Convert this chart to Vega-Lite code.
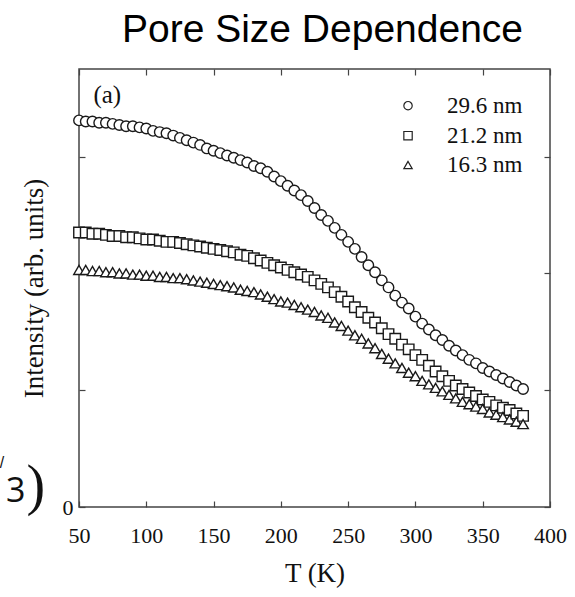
{
  "$schema": "https://vega.github.io/schema/vega-lite/v6.json",
  "autosize": {"type": "none"},
  "width": 471,
  "height": 438,
  "padding": {"left": 79, "top": 69, "right": 25, "bottom": 90},
  "background": "white",
  "title": {"text": "Pore Size Dependence", "font": "Liberation Sans", "fontSize": 39, "fontWeight": "normal", "color": "#000", "offset": 18, "dx": 8},
  "config": {
    "view": {"stroke": "#444", "strokeWidth": 1.5},
    "axis": {"labelFont": "Liberation Serif", "titleFont": "Liberation Serif", "labelColor": "#111", "titleColor": "#111", "labelFontSize": 22, "titleFontSize": 27, "titleFontWeight": "normal", "grid": false, "domain": false, "tickColor": "#444", "tickWidth": 1.2, "tickSize": -6, "labelFlush": false}
  },
  "datasets": {
    "curves": [
      {"T":50,"s296":3.31,"s212":2.35,"s163":2.03},
      {"T":55,"s296":3.30,"s212":2.35,"s163":2.03},
      {"T":60,"s296":3.30,"s212":2.34,"s163":2.02},
      {"T":65,"s296":3.29,"s212":2.34,"s163":2.02},
      {"T":70,"s296":3.29,"s212":2.33,"s163":2.01},
      {"T":75,"s296":3.28,"s212":2.32,"s163":2.01},
      {"T":80,"s296":3.27,"s212":2.32,"s163":2.00},
      {"T":85,"s296":3.26,"s212":2.31,"s163":2.00},
      {"T":90,"s296":3.26,"s212":2.31,"s163":1.99},
      {"T":95,"s296":3.25,"s212":2.30,"s163":1.99},
      {"T":100,"s296":3.24,"s212":2.29,"s163":1.98},
      {"T":105,"s296":3.22,"s212":2.29,"s163":1.98},
      {"T":110,"s296":3.21,"s212":2.28,"s163":1.97},
      {"T":115,"s296":3.20,"s212":2.27,"s163":1.97},
      {"T":120,"s296":3.18,"s212":2.27,"s163":1.96},
      {"T":125,"s296":3.16,"s212":2.26,"s163":1.96},
      {"T":130,"s296":3.14,"s212":2.25,"s163":1.95},
      {"T":135,"s296":3.12,"s212":2.24,"s163":1.94},
      {"T":140,"s296":3.10,"s212":2.23,"s163":1.93},
      {"T":145,"s296":3.07,"s212":2.22,"s163":1.92},
      {"T":150,"s296":3.05,"s212":2.21,"s163":1.91},
      {"T":155,"s296":3.03,"s212":2.20,"s163":1.90},
      {"T":160,"s296":3.01,"s212":2.19,"s163":1.89},
      {"T":165,"s296":2.99,"s212":2.18,"s163":1.88},
      {"T":170,"s296":2.97,"s212":2.16,"s163":1.86},
      {"T":175,"s296":2.95,"s212":2.15,"s163":1.85},
      {"T":180,"s296":2.92,"s212":2.13,"s163":1.84},
      {"T":185,"s296":2.90,"s212":2.11,"s163":1.82},
      {"T":190,"s296":2.87,"s212":2.09,"s163":1.80},
      {"T":195,"s296":2.83,"s212":2.07,"s163":1.78},
      {"T":200,"s296":2.79,"s212":2.05,"s163":1.76},
      {"T":205,"s296":2.75,"s212":2.03,"s163":1.75},
      {"T":210,"s296":2.71,"s212":2.01,"s163":1.73},
      {"T":215,"s296":2.67,"s212":1.99,"s163":1.71},
      {"T":220,"s296":2.62,"s212":1.97,"s163":1.69},
      {"T":225,"s296":2.56,"s212":1.94,"s163":1.67},
      {"T":230,"s296":2.50,"s212":1.91,"s163":1.64},
      {"T":235,"s296":2.45,"s212":1.88,"s163":1.62},
      {"T":240,"s296":2.39,"s212":1.84,"s163":1.58},
      {"T":245,"s296":2.33,"s212":1.80,"s163":1.55},
      {"T":250,"s296":2.27,"s212":1.76,"s163":1.51},
      {"T":255,"s296":2.21,"s212":1.71,"s163":1.47},
      {"T":260,"s296":2.14,"s212":1.67,"s163":1.44},
      {"T":265,"s296":2.07,"s212":1.62,"s163":1.40},
      {"T":270,"s296":2.01,"s212":1.58,"s163":1.36},
      {"T":275,"s296":1.94,"s212":1.53,"s163":1.31},
      {"T":280,"s296":1.88,"s212":1.48,"s163":1.27},
      {"T":285,"s296":1.81,"s212":1.44,"s163":1.23},
      {"T":290,"s296":1.75,"s212":1.39,"s163":1.19},
      {"T":295,"s296":1.70,"s212":1.35,"s163":1.15},
      {"T":300,"s296":1.63,"s212":1.30,"s163":1.12},
      {"T":305,"s296":1.57,"s212":1.26,"s163":1.08},
      {"T":310,"s296":1.52,"s212":1.21,"s163":1.05},
      {"T":315,"s296":1.47,"s212":1.16,"s163":1.02},
      {"T":320,"s296":1.43,"s212":1.12,"s163":0.99},
      {"T":325,"s296":1.38,"s212":1.08,"s163":0.96},
      {"T":330,"s296":1.34,"s212":1.04,"s163":0.93},
      {"T":335,"s296":1.30,"s212":1.01,"s163":0.90},
      {"T":340,"s296":1.26,"s212":0.98,"s163":0.88},
      {"T":345,"s296":1.23,"s212":0.95,"s163":0.86},
      {"T":350,"s296":1.19,"s212":0.92,"s163":0.84},
      {"T":355,"s296":1.16,"s212":0.90,"s163":0.81},
      {"T":360,"s296":1.13,"s212":0.87,"s163":0.79},
      {"T":365,"s296":1.10,"s212":0.85,"s163":0.77},
      {"T":370,"s296":1.07,"s212":0.83,"s163":0.75},
      {"T":375,"s296":1.04,"s212":0.80,"s163":0.73},
      {"T":380,"s296":1.01,"s212":0.78,"s163":0.71}
    ],
    "legendRows": [
      {"series": "s296", "label": "29.6 nm", "T": 294.5, "TL": 323.5, "v": 3.436},
      {"series": "s212", "label": "21.2 nm", "T": 294.5, "TL": 323.5, "v": 3.179},
      {"series": "s163", "label": "16.3 nm", "T": 294.5, "TL": 323.5, "v": 2.928}
    ]
  },
  "resolve": {"axis": {"x": "independent", "y": "independent"}},
  "layer": [
    {
      "data": {"name": "curves"},
      "transform": [{"fold": ["s296", "s212", "s163"], "as": ["series", "value"]}],
      "mark": {"type": "point", "filled": false, "fill": "white", "fillOpacity": 1, "stroke": "#1a1a1a", "strokeWidth": 1.4, "size": 110},
      "encoding": {
        "x": {"field": "T", "type": "quantitative", "scale": {"domain": [50, 400], "nice": false, "zero": false},
              "axis": {"orient": "bottom", "values": [50, 100, 150, 200, 250, 300, 350, 400], "title": "T (K)", "labelPadding": 24, "titlePadding": 14}},
        "y": {"field": "value", "type": "quantitative", "scale": {"domain": [0, 3.75], "nice": false, "zero": true},
              "axis": {"orient": "left", "values": [0, 1, 2, 3], "labelExpr": "datum.value == 0 ? '0' : ''", "title": "Intensity (arb. units)", "labelPadding": 12, "titlePadding": 14}},
        "shape": {"field": "series", "type": "nominal",
                  "scale": {"domain": ["s296", "s212", "s163"], "range": ["circle", "square", "triangle-up"]},
                  "legend": null}
      }
    },
    {
      "data": {"name": "legendRows"},
      "mark": {"type": "point", "filled": false, "fill": "white", "fillOpacity": 1, "stroke": "#222", "strokeWidth": 1.2, "size": 70},
      "encoding": {
        "x": {"field": "T", "type": "quantitative", "axis": null},
        "y": {"field": "v", "type": "quantitative", "axis": null},
        "shape": {"field": "series", "type": "nominal", "legend": null}
      }
    },
    {
      "data": {"name": "legendRows"},
      "mark": {"type": "text", "font": "Liberation Serif", "fontSize": 23, "color": "#111", "baseline": "middle", "align": "left"},
      "encoding": {
        "x": {"field": "TL", "type": "quantitative", "axis": null},
        "y": {"field": "v", "type": "quantitative", "axis": null},
        "text": {"field": "label"}
      }
    },
    {
      "data": {"values": [{"label": "(a)", "T": 71, "v": 3.53}]},
      "mark": {"type": "text", "font": "Liberation Serif", "fontSize": 25, "color": "#111", "baseline": "middle", "align": "center"},
      "encoding": {
        "x": {"field": "T", "type": "quantitative", "axis": {"orient": "top", "values": [50, 100, 150, 200, 250, 300, 350, 400], "labels": false, "title": null}},
        "y": {"field": "v", "type": "quantitative", "axis": {"orient": "right", "values": [0, 1, 2, 3], "labels": false, "title": null}},
        "text": {"field": "label"}
      }
    },
    {
      "data": {"values": [{"label": "3", "T": 10.2, "v": 0.043}]},
      "mark": {"type": "text", "font": "Open Sans", "fontSize": 34, "color": "#111", "baseline": "alphabetic", "align": "right"},
      "encoding": {
        "x": {"field": "T", "type": "quantitative", "axis": null},
        "y": {"field": "v", "type": "quantitative", "axis": null},
        "text": {"field": "label"}
      }
    },
    {
      "data": {"values": [{"label": ")", "T": 10.9, "v": 0.175}]},
      "mark": {"type": "text", "font": "Liberation Serif", "fontSize": 56, "color": "#111", "baseline": "middle", "align": "left"},
      "encoding": {
        "x": {"field": "T", "type": "quantitative", "axis": null},
        "y": {"field": "v", "type": "quantitative", "axis": null},
        "text": {"field": "label"}
      }
    },
    {
      "data": {"values": [{"label": "/", "T": -7.2, "v": 0.38}]},
      "mark": {"type": "text", "font": "Liberation Sans", "fontSize": 16, "color": "#111", "baseline": "middle", "align": "center"},
      "encoding": {
        "x": {"field": "T", "type": "quantitative", "axis": null},
        "y": {"field": "v", "type": "quantitative", "axis": null},
        "text": {"field": "label"}
      }
    }
  ]
}
